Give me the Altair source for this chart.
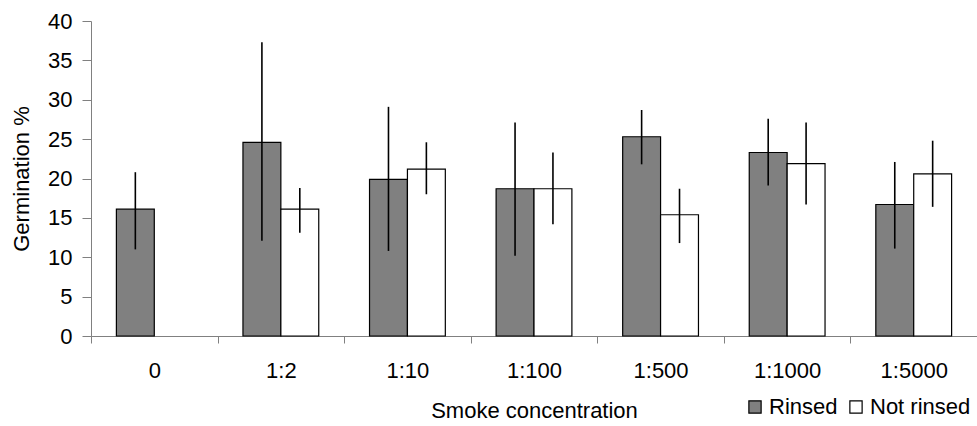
import altair as alt
import pandas as pd

categories = ["0", "1:2", "1:10", "1:100", "1:500", "1:1000", "1:5000"]
treatments = ["Rinsed", "Not rinsed"]

rinsed_mean = [16.1, 24.6, 19.9, 18.7, 25.3, 23.3, 16.7]
rinsed_low = [11.0, 12.1, 10.8, 10.2, 21.8, 19.1, 11.1]
rinsed_high = [20.8, 37.3, 29.1, 27.1, 28.7, 27.6, 22.1]

not_rinsed_mean = [None, 16.1, 21.2, 18.7, 15.4, 21.9, 20.6]
not_rinsed_low = [None, 13.1, 18.0, 14.2, 11.8, 16.7, 16.4]
not_rinsed_high = [None, 18.8, 24.6, 23.3, 18.7, 27.1, 24.8]

y_ticks = [0, 5, 10, 15, 20, 25, 30, 35, 40]

rows = []
for i, c in enumerate(categories):
    rows.append(dict(conc=c, treatment="Rinsed", mean=rinsed_mean[i],
                     low=rinsed_low[i], high=rinsed_high[i]))
    if not_rinsed_mean[i] is not None:
        rows.append(dict(conc=c, treatment="Not rinsed", mean=not_rinsed_mean[i],
                         low=not_rinsed_low[i], high=not_rinsed_high[i]))
df = pd.DataFrame(rows)

FONT = "Liberation Sans"

x_scale = alt.Scale(domain=categories, paddingInner=0, paddingOuter=0)
xoff_scale = alt.Scale(domain=treatments, paddingInner=0, paddingOuter=0.67)
y_scale = alt.Scale(domain=[0, 40], nice=False, zero=True)

x_axis = alt.Axis(title="Smoke concentration", labelAngle=0,
                  tickBand="extent", grid=False, tickSize=7,
                  labelPadding=17, titlePadding=19,
                  labelFontSize=22, titleFontSize=22,
                  titleFontWeight="normal")
y_axis = alt.Axis(title="Germination %", values=y_ticks, tickSize=9,
                  grid=False, labelOverlap=False,
                  labelPadding=10, titlePadding=14,
                  labelFontSize=22, titleFontSize=22,
                  titleFontWeight="normal")

bars = alt.Chart(df).mark_bar(stroke="black", strokeWidth=1.2).encode(
    x=alt.X("conc:N", sort=categories, scale=x_scale, axis=x_axis),
    xOffset=alt.XOffset("treatment:N", sort=treatments, scale=xoff_scale),
    y=alt.Y("mean:Q", scale=y_scale, axis=y_axis),
    color=alt.Color(
        "treatment:N", sort=treatments,
        scale=alt.Scale(domain=treatments, range=["#808080", "#ffffff"]),
        legend=alt.Legend(title=None, orient="none", direction="horizontal",
                          legendX=653, legendY=375, symbolType="square",
                          symbolSize=150, symbolStrokeColor="black",
                          symbolStrokeWidth=1.2, symbolOpacity=1,
                          labelFontSize=22, labelOffset=3, columnPadding=7,
                          padding=0, labelColor="black", labelFont=FONT,
                          labelLimit=0),
    ),
)

errs = alt.Chart(df).mark_rule(color="black", strokeWidth=1.6).encode(
    x=alt.X("conc:N", sort=categories, scale=x_scale, axis=x_axis),
    xOffset=alt.XOffset("treatment:N", sort=treatments, scale=xoff_scale),
    y=alt.Y("low:Q", scale=y_scale, axis=y_axis),
    y2="high:Q",
)

chart = alt.layer(bars, errs).properties(
    width=886, height=315,
    autosize=alt.AutoSizeParams(type="none"),
    padding={"left": 91, "top": 21, "right": 0, "bottom": 90},
    background="white",
).configure_view(stroke=None).configure_axis(
    grid=False, domainColor="#808080", tickColor="#808080",
    labelFont=FONT, titleFont=FONT, labelColor="black", titleColor="black",
)

chart.save("out.html", embed_options={"renderer": "svg", "actions": False})
